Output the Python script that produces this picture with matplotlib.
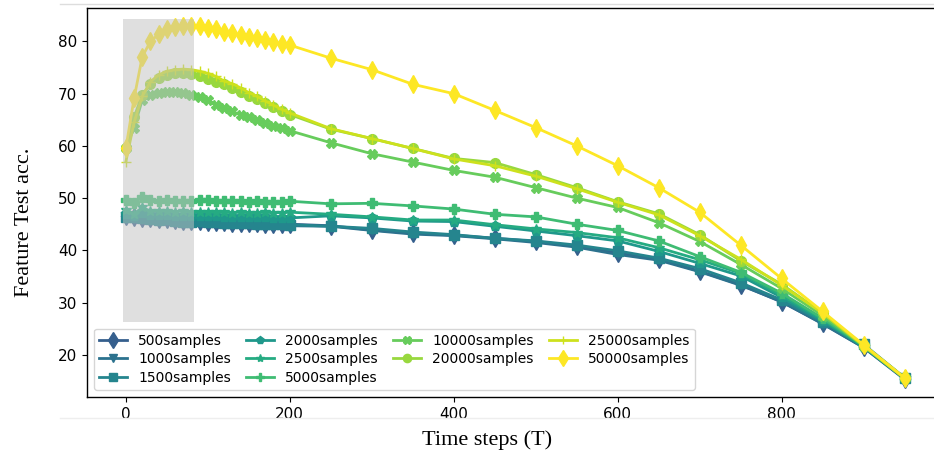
import matplotlib
matplotlib.use("Agg")
import matplotlib.pyplot as plt
from matplotlib.lines import Line2D

# time steps
steps = [0, 10, 20, 30, 40, 50, 60, 70, 80, 90, 100, 110, 120, 130, 140, 150, 160, 170, 180, 190, 200,
         250, 300, 350, 400, 450, 500, 550, 600, 650, 700, 750, 800, 850, 900, 950]

acc_500 = [46.6, 46.4, 46.2, 46.1, 46.0, 45.9, 45.8, 45.7, 45.6, 45.6, 45.5, 45.4, 45.4, 45.3, 45.3, 45.2, 45.2, 45.1, 45.1, 45.0, 45.0,
           44.7, 43.9, 43.3, 42.9, 42.3, 41.7, 40.8, 39.5, 38.3, 36.0, 33.4, 30.1, 26.0, 21.4, 15.3]
acc_1000 = [46.2, 46.1, 45.9, 45.8, 45.7, 45.6, 45.5, 45.4, 45.4, 45.3, 45.3, 45.2, 45.1, 45.1, 45.0, 45.0, 44.9, 44.9, 44.8, 44.8, 44.7,
            44.6, 43.8, 43.1, 42.8, 42.2, 41.5, 40.6, 39.2, 38.1, 35.9, 33.3, 30.2, 25.9, 21.4, 15.4]
acc_1500 = [46.4, 46.3, 46.1, 46.0, 45.8, 45.9, 45.6, 45.5, 45.5, 45.6, 45.5, 45.4, 45.3, 45.3, 45.2, 45.2, 45.1, 45.1, 45.0, 45.0, 44.9,
            44.6, 44.2, 43.5, 43.0, 42.3, 41.8, 41.0, 39.9, 38.5, 36.5, 33.8, 30.5, 26.3, 22.0, 15.6]
acc_2000 = [46.9, 46.6, 47.2, 46.8, 46.8, 46.7, 46.6, 46.6, 46.5, 46.6, 46.5, 46.5, 46.4, 46.4, 46.4, 46.3, 46.3, 46.3, 46.2, 46.2, 46.2,
            46.6, 46.2, 45.6, 45.5, 44.6, 43.7, 42.8, 41.8, 39.8, 37.5, 35.1, 31.0, 26.5, 21.5, 15.5]
acc_2500 = [47.8, 47.0, 48.2, 47.5, 47.6, 47.5, 47.4, 47.5, 47.3, 47.4, 47.4, 47.3, 47.3, 47.2, 47.3, 47.2, 47.2, 47.3, 47.2, 47.2, 47.3,
            46.9, 46.4, 45.8, 45.8, 44.9, 44.1, 43.4, 42.4, 40.5, 38.2, 35.6, 31.4, 26.8, 21.6, 15.5]
acc_5000 = [49.6, 49.0, 50.2, 49.7, 49.5, 49.6, 49.4, 49.5, 49.4, 49.6, 49.6, 49.5, 49.4, 49.4, 49.4, 49.3, 49.4, 49.3, 49.3, 49.2, 49.4,
            48.9, 49.0, 48.5, 47.9, 46.9, 46.4, 45.0, 43.8, 41.8, 38.8, 35.8, 31.8, 27.0, 21.8, 15.6]
acc_10000 = [59.5, 63.5, 68.8, 69.8, 70.1, 70.4, 70.4, 70.1, 69.8, 69.3, 68.8, 67.8, 67.2, 66.6, 65.9, 65.5, 65.0, 64.3, 63.8, 63.4, 62.9,
             60.6, 58.5, 56.9, 55.3, 54.0, 52.0, 50.0, 48.2, 45.3, 41.7, 37.3, 32.7, 27.5, 21.7, 15.5]
acc_20000 = [59.5, 65.5, 69.8, 71.8, 73.0, 73.6, 74.0, 74.0, 73.8, 73.4, 72.8, 72.3, 71.8, 71.1, 70.4, 69.6, 68.9, 68.2, 67.4, 66.7, 66.0,
             63.2, 61.4, 59.5, 57.6, 56.8, 54.5, 52.0, 49.3, 47.0, 43.0, 38.0, 33.5, 28.0, 21.7, 15.5]
acc_25000 = [57.0, 64.5, 69.5, 72.3, 73.6, 74.3, 74.6, 74.7, 74.6, 74.3, 73.9, 73.3, 72.4, 71.9, 71.1, 70.2, 69.5, 68.6, 67.8, 67.0, 66.3,
             63.3, 61.4, 59.5, 57.5, 56.2, 54.2, 51.8, 49.2, 46.8, 42.8, 38.3, 33.3, 28.0, 21.8, 15.5]
acc_50000 = [59.6, 69.1, 77.1, 80.0, 81.4, 82.3, 82.7, 83.0, 83.0, 83.0, 82.6, 82.3, 81.9, 81.6, 81.2, 80.9, 80.6, 80.3, 79.8, 79.6, 79.3,
             76.8, 74.6, 71.8, 70.0, 66.8, 63.5, 60.0, 56.2, 52.0, 47.3, 41.0, 34.6, 28.3, 21.9, 15.6]

labels = ['500samples', '1000samples', '1500samples', '2000samples', '2500samples',
          '5000samples', '10000samples', '20000samples', '25000samples', '50000samples']
series = [acc_500, acc_1000, acc_1500, acc_2000, acc_2500,
          acc_5000, acc_10000, acc_20000, acc_25000, acc_50000]
markers = ['d', 'v', 's', 'p', '*', 'P', 'X', 'o', '+', 'd']

# highlighted early-step region
shade_x = [-4, 83]
shade_y = [26.2, 84.3]

fig = plt.figure(figsize=(9.34, 4.51), dpi=100)
ax = fig.add_axes([0.0931, 0.1197, 0.917, 0.8625])

n = len(series)
for i, (lab, ys, mk) in enumerate(zip(labels, series, markers)):
    c = plt.cm.viridis(0.3 + 0.7 * i / (n - 1))
    ms = 9 if mk == 'd' else 7
    ax.plot(steps, ys, marker=mk, color=c, label=lab, linewidth=2, markersize=ms)

ax.fill_between(shade_x, shade_y[0], shade_y[1], color='#c1c1c1', alpha=0.5,
                linewidth=0, zorder=3)

ax.set_xlim(-47.5, 997.5)
ax.set_ylim(11.9, 86.4)
ax.set_xticks([0, 200, 400, 600, 800])
ax.set_yticks([20, 30, 40, 50, 60, 70, 80])
ax.tick_params(labelsize=11)
for s in ax.spines.values():
    s.set_linewidth(1.0)

ax.set_xlabel('Time steps (T)', family='Liberation Serif', fontsize=16)
ax.set_ylabel('Feature Test acc.', family='Liberation Serif', fontsize=16)
ax.xaxis.set_label_coords(0.467, -0.085)
ax.yaxis.set_label_coords(-0.062, 0.45)

ax.legend(loc='lower left', ncol=4, fontsize=10, columnspacing=1.1,
          labelspacing=0.3, markerscale=0.85)

# faint screenshot border lines
fig.add_artist(Line2D([60 / 934, 1], [1 - 4 / 451, 1 - 4 / 451], transform=fig.transFigure,
                      color='#dddddd', linewidth=1))
fig.add_artist(Line2D([60 / 934, 1], [1 - 418 / 451, 1 - 418 / 451], transform=fig.transFigure,
                      color='#eeeeee', linewidth=1))

fig.savefig('out.png', dpi=100)
